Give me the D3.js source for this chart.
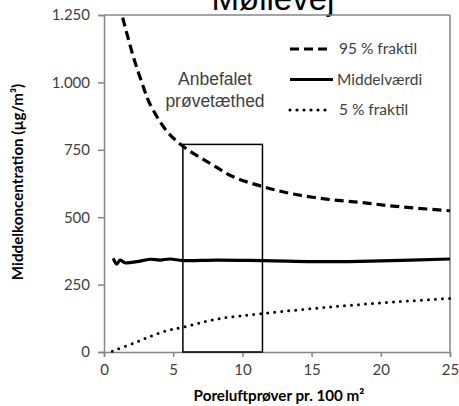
<!DOCTYPE html>
<html>
<head>
<meta charset="utf-8">
<script src="https://cdn.jsdelivr.net/npm/d3@7"></script>
<style>
  html, body { margin: 0; padding: 0; background: #fff; }
  svg { display: block; }
</style>
</head>
<body>
<svg id="chart" width="459" height="406"></svg>
<script>
// Prøvetal (poreluftprøver pr. 100 m²) og middelkoncentration (µg/m³)
const p95X = [1.35, 2.12, 2.84, 3.32, 4.53, 5.73, 7.66, 9.34, 11.5, 13.68, 16.09, 18.5, 20.9, 25];
const p95Y = [1240, 1095, 984, 920, 820, 762, 700, 650, 613, 586, 567, 555, 541, 524];

const meanX = [0.67, 0.92, 1.16, 1.52, 2.36, 3.32, 4.05, 4.77, 5.73, 8.14, 11.5, 16.5, 20, 25];
const meanY = [347, 326, 341, 331, 335, 344, 341, 345, 339, 341, 339, 335, 338, 345];

const p5X = [0.6, 2.12, 3.32, 4.53, 5.73, 8.14, 11.5, 16.57, 21.4, 25];
const p5Y = [3, 32, 57, 79, 92, 122, 143, 168, 187, 199];

const boxX = [5.7, 11.45];
const boxTop = 770;

const xTicks = [0, 5, 10, 15, 20, 25];
const yTicks = [0, 250, 500, 750, 1000, 1250];
const yTickLabels = ["0", "250", "500", "750", "1.000", "1.250"];

const seriesNames = ["95 % fraktil", "Middelværdi", "5 % fraktil"];

const svg = d3.select("#chart");
const x = d3.scaleLinear().domain([0, 25]).range([104, 450]);
const y = d3.scaleLinear().domain([0, 1250]).range([352, 15]);

const axisColor = "#868686";
const textColor = "#404040";
const tickFont = "Lato, 'Open Sans', sans-serif";

// Titel (delvist uden for billedet)
svg.append("text")
  .attr("x", 273).attr("y", 10)
  .attr("text-anchor", "middle")
  .attr("font-family", "'Liberation Sans', Arial, sans-serif")
  .attr("font-size", 33)
  .attr("fill", "#000")
  .text("Møllevej");

// Ramme om plotområdet
svg.append("line").attr("x1", x(0)).attr("x2", x(25)).attr("y1", y(1250)).attr("y2", y(1250))
  .attr("stroke", axisColor).attr("stroke-width", 1.5);
svg.append("line").attr("x1", x(25)).attr("x2", x(25)).attr("y1", y(1250)).attr("y2", y(0))
  .attr("stroke", axisColor).attr("stroke-width", 1.5);

// Akser
const yAxis = d3.axisLeft(y).tickValues(yTicks).tickSize(6).tickPadding(8)
  .tickFormat((d, i) => yTickLabels[i]);
const gy = svg.append("g").attr("transform", `translate(${x(0)},0)`).call(yAxis);

const xAxis = d3.axisBottom(x).tickValues(xTicks).tickSize(5).tickPadding(7);
const gx = svg.append("g").attr("transform", `translate(0,${y(0)})`).call(xAxis);

[gx, gy].forEach(g => {
  g.select(".domain").attr("stroke", axisColor).attr("stroke-width", 1.5);
  g.selectAll(".tick line").attr("stroke", axisColor).attr("stroke-width", 1.5);
  g.selectAll(".tick text").attr("fill", textColor)
    .attr("font-family", tickFont).attr("font-size", 15);
});

// Aksetitler
svg.append("text")
  .attr("transform", `translate(23,182) rotate(-90)`)
  .attr("text-anchor", "middle")
  .attr("font-family", tickFont).attr("font-weight", "bold").attr("font-size", 15.2)
  .attr("fill", "#000")
  .text("Middelkoncentration (µg/m³)");

svg.append("text")
  .attr("x", 279).attr("y", 401)
  .attr("text-anchor", "middle")
  .attr("font-family", tickFont).attr("font-weight", "bold").attr("font-size", 15.2)
  .attr("fill", "#000")
  .text("Poreluftprøver pr. 100 m²");

// Anbefalet prøvetæthed
svg.append("rect")
  .attr("x", x(boxX[0])).attr("y", y(boxTop))
  .attr("width", x(boxX[1]) - x(boxX[0])).attr("height", y(0) - y(boxTop))
  .attr("fill", "none").attr("stroke", "#000").attr("stroke-width", 1.5);

const ann = svg.append("text")
  .attr("text-anchor", "middle")
  .attr("font-family", "'Liberation Sans', Arial, sans-serif")
  .attr("font-size", 17.5).attr("fill", textColor);
ann.append("tspan").attr("x", 215).attr("y", 85).text("Anbefalet");
ann.append("tspan").attr("x", 215).attr("y", 107).text("prøvetæthed");

// Kurver
const line = d3.line().x(d => x(d[0])).y(d => y(d[1])).curve(d3.curveCatmullRom.alpha(0.5));

svg.append("path")
  .datum(d3.zip(p95X, p95Y))
  .attr("d", line)
  .attr("fill", "none").attr("stroke", "#000").attr("stroke-width", 3.2)
  .attr("stroke-dasharray", "9,5");

svg.append("path")
  .datum(d3.zip(meanX, meanY))
  .attr("d", line)
  .attr("fill", "none").attr("stroke", "#000").attr("stroke-width", 3.2)
  .attr("stroke-linejoin", "round");

svg.append("path")
  .datum(d3.zip(p5X, p5Y))
  .attr("d", line)
  .attr("fill", "none").attr("stroke", "#000").attr("stroke-width", 3)
  .attr("stroke-linecap", "round")
  .attr("stroke-dasharray", "0,7");

// Forklaring
const legendStyles = [
  { dash: "9,5", cap: "butt" },
  { dash: null, cap: "butt" },
  { dash: "0,7", cap: "round" }
];
const leg = svg.append("g");
seriesNames.forEach((name, i) => {
  const ly = 49 + i * 30.5;
  leg.append("line")
    .attr("x1", 290).attr("x2", i === 1 ? 333 : 330)
    .attr("y1", ly).attr("y2", ly)
    .attr("stroke", "#000").attr("stroke-width", 3.2)
    .attr("stroke-linecap", legendStyles[i].cap)
    .attr("stroke-dasharray", legendStyles[i].dash);
  leg.append("text")
    .attr("x", i === 1 ? 337 : 339).attr("y", ly + 5)
    .attr("font-family", tickFont).attr("font-size", 15.5)
    .attr("fill", textColor)
    .text(name);
});
</script>
</body>
</html>
